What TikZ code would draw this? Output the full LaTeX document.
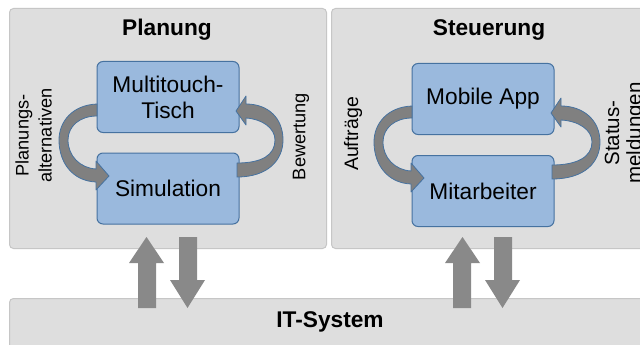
\documentclass[tikz,border=0pt]{standalone}
\usepackage{fontspec}
\setmainfont{Liberation Sans}
\definecolor{panelgray}{RGB}{222,222,222}
\definecolor{panelline}{RGB}{198,198,198}
\definecolor{boxblue}{RGB}{154,185,221}
\definecolor{boxline}{RGB}{70,114,160}
\definecolor{arcgray}{RGB}{128,128,128}
\definecolor{blockgray}{RGB}{137,137,137}
\begin{document}
\begin{tikzpicture}[x=1pt,y=-1pt,
 panel/.style={draw=panelline, line width=1pt, fill=panelgray, rounded corners=4pt, inner sep=0pt, anchor=north west},
 bluebox/.style={draw=boxline, line width=1pt, fill=boxblue, rounded corners=6pt, minimum width=142pt, minimum height=71pt, align=center, font=\fontsize{22.7}{26}\selectfont, inner sep=0pt},
 title/.style={font=\fontsize{22.7}{26}\selectfont\bfseries, anchor=base, inner sep=0pt},
 side/.style={rotate=90, align=center, inner sep=0pt},
 arcarrow/.style={draw=boxline, line width=0.8pt, fill=arcgray, line join=round},
 blockarrow/.style={fill=blockgray}]
\useasboundingbox (0,0) rectangle (640,345);
\clip (0,0) rectangle (640,345);
\fill[white] (0,0) rectangle (640,345);

% panels
\node[panel, minimum width=317pt, minimum height=240pt] (planung) at (9,8) {};
\node[panel, minimum width=321pt, minimum height=240pt] (steuerung) at (331,8) {};
\node[panel, minimum width=643pt, minimum height=60pt] (it) at (9,298) {};

% titles
\node[title] (t1) at (167,36) {Planung};
\node[title] (t2) at (489,36) {Steuerung};
\node[title] (t3) at (330,327) {IT-System};

% blue boxes
\node[bluebox] (multi) at (168,97) {Multitouch-\\Tisch};
\node[bluebox] (sim) at (168,188.5) {Simulation};
\node[bluebox] (app) at (483,99) {Mobile App};
\node[bluebox] (mit) at (483,191) {Mitarbeiter};

% curved arrows, Planung
\path[arcarrow] (97,104) .. controls (72,105) and (59,122) .. (59,140)
  .. controls (59,162) and (72,181) .. (96,182) -- (96,190) -- (109,176) -- (96,161) -- (96,169)
  .. controls (80,168) and (68,156) .. (68,140)
  .. controls (68,126) and (80,116) .. (97,116) -- cycle;
\path[arcarrow] (237,177) .. controls (268,177) and (283,160) .. (283,140)
  .. controls (283,118) and (268,104) .. (246,104) -- (246,96) -- (236,111) -- (246,125) -- (246,118)
  .. controls (262,119) and (275,128) .. (275,140)
  .. controls (275,155) and (262,163) .. (237,163) -- cycle;

% curved arrows, Steuerung
\begin{scope}[shift={(315,2)}]
\path[arcarrow] (97,104) .. controls (72,105) and (59,122) .. (59,140)
  .. controls (59,162) and (72,181) .. (96,182) -- (96,190) -- (109,176) -- (96,161) -- (96,169)
  .. controls (80,168) and (68,156) .. (68,140)
  .. controls (68,126) and (80,116) .. (97,116) -- cycle;
\path[arcarrow] (237,177) .. controls (270,177) and (285,160) .. (285,140)
  .. controls (285,118) and (268,104) .. (246,104) -- (246,96) -- (236,111) -- (246,125) -- (246,118)
  .. controls (264,119) and (277,128) .. (277,140)
  .. controls (277,155) and (262,163) .. (237,163) -- cycle;
\end{scope}

% side labels
\node[side, font=\fontsize{18.2}{23}\selectfont] (l1) at (33.5,135.5) {Planungs-\\alternativen};
\node[side, font=\fontsize{18.2}{23}\selectfont] (l2) at (301,136.5) {Bewertung};
\node[side, font=\fontsize{19.5}{23}\selectfont] (l3) at (353,134) {Aufträge};
\node[side, font=\fontsize{20.5}{22}\selectfont] (l4) at (625,133) {Status-\\meldungen};

% block arrows
\path[blockarrow] (138,308) -- (138,263) -- (129,263) -- (146.5,237) -- (164,263) -- (156,263) -- (156,308) -- cycle;
\path[blockarrow] (179,237) -- (197,237) -- (197,280) -- (205,280) -- (187.5,308) -- (170,280) -- (179,280) -- cycle;
\path[blockarrow] (453,308) -- (453,263) -- (445,263) -- (462.5,237) -- (480,263) -- (471,263) -- (471,308) -- cycle;
\path[blockarrow] (494,237) -- (512,237) -- (512,280) -- (520,280) -- (502.5,308) -- (485,280) -- (494,280) -- cycle;
\end{tikzpicture}
\end{document}
